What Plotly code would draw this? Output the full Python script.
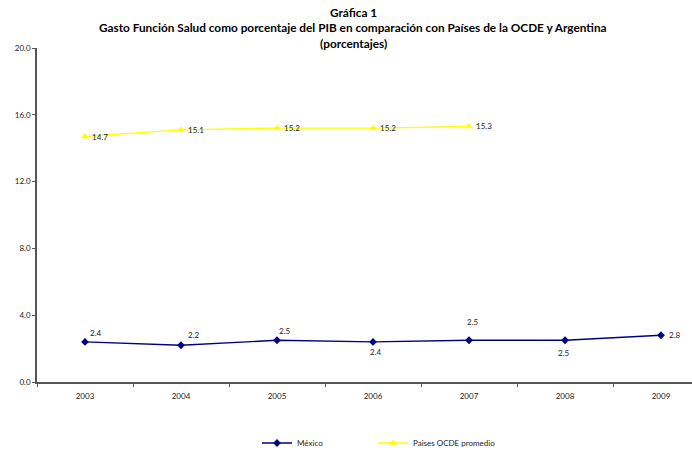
import plotly.graph_objects as go

# Data
years = ["2003", "2004", "2005", "2006", "2007", "2008", "2009"]
mexico = [2.4, 2.2, 2.5, 2.4, 2.5, 2.5, 2.8]
ocde_years = ["2003", "2004", "2005", "2006", "2007"]
ocde = [14.7, 15.1, 15.2, 15.2, 15.3]

# Label offsets (px) for the Mexico data labels
mx_label_dx = [11, 13, 8, 3, 4, -1, 14]
mx_label_dy = [-9, -10, -9, 10, -18, 13, 0]

W, H = 692, 451
ML, MR, MT, MB = 37, 0, 48, 69
PW, PH = W - ML - MR, H - MT - MB
cat_px = 96.0
x_hi = -0.5 + PW / cat_px

FONT = "Lato, Open Sans, sans-serif"
NAVY = "#000080"
YELLOW = "#FFFF00"

fig = go.Figure()

fig.add_trace(go.Scatter(
    x=years, y=mexico, name="México", mode="lines+markers",
    line=dict(color=NAVY, width=1.4),
    marker=dict(symbol="diamond", size=6, color=NAVY),
    cliponaxis=False, legend="legend",
))
fig.add_trace(go.Scatter(
    x=ocde_years, y=ocde, name="Paises OCDE promedio", mode="lines+markers",
    line=dict(color=YELLOW, width=1.4),
    marker=dict(symbol="triangle-up", size=7, color=YELLOW),
    cliponaxis=False, legend="legend2",
))

annotations = []
# category positions are referenced by index on the category axis
for i, (v, dx, dy) in enumerate(zip(mexico, mx_label_dx, mx_label_dy)):
    annotations.append(dict(
        xref="x", yref="y", x=i, y=v, text=f"{v:.1f}",
        showarrow=False, xshift=dx, yshift=-dy,
        font=dict(family=FONT, size=8, color="#222"),
    ))
for i, v in enumerate(ocde):
    annotations.append(dict(
        xref="x", yref="y", x=years.index(ocde_years[i]), y=v, text=f"{v:.1f}",
        showarrow=False, xshift=15, yshift=0,
        font=dict(family=FONT, size=8, color="#222"),
    ))

# Title block
title_lines = [
    ("Gráfica 1", 12),
    ("Gasto Función Salud como porcentaje del PIB en comparación con Países de la OCDE y Argentina", 28),
    ("(porcentajes)", 44),
]
for txt, ypx in title_lines:
    annotations.append(dict(
        xref="paper", yref="paper",
        x=(353 - ML) / PW, y=1 + (MT - ypx) / PH,
        text=f"<b>{txt}</b>", showarrow=False, xanchor="center", yanchor="middle",
        font=dict(family=FONT, size=11.8, color="#000"),
    ))

legend_style = dict(
    orientation="h", xanchor="left",
    y=-(443 - 382) / PH, yanchor="middle",
    font=dict(family=FONT, size=8, color="#222"),
    itemwidth=30, bgcolor="rgba(0,0,0,0)",
)

fig.update_layout(
    width=W, height=H,
    margin=dict(l=ML, r=MR, t=MT, b=MB, pad=0, autoexpand=False),
    paper_bgcolor="white", plot_bgcolor="white",
    showlegend=True,
    legend=dict(x=(257 - ML) / PW, **legend_style),
    legend2=dict(x=(373 - ML) / PW, **legend_style),
    annotations=annotations,
    font=dict(family=FONT, size=8, color="#222"),
)

fig.update_xaxes(
    type="category", range=[-0.5, x_hi], tickson="boundaries",
    ticks="outside", ticklen=3, tickcolor="#555",
    showline=True, linecolor="#555", linewidth=1.5,
    showgrid=False, zeroline=False, ticklabelstandoff=6,
    tickfont=dict(family=FONT, size=8, color="#222"),
)
fig.update_yaxes(
    range=[0, 20], dtick=4, tickformat=".1f",
    ticks="outside", ticklen=3, tickcolor="#555",
    showline=True, linecolor="#555", linewidth=1.5,
    showgrid=False, zeroline=False,
    tickfont=dict(family=FONT, size=8, color="#222"),
)

fig.write_html("out.html")
